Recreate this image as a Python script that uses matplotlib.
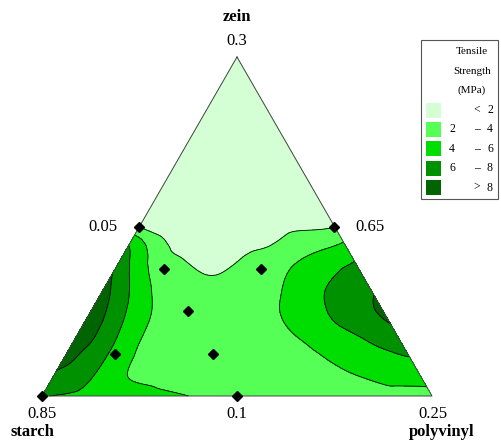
## Librerías
import numpy as np
import matplotlib
matplotlib.use("Agg")
import matplotlib.pyplot as plt
import matplotlib.tri as mtri
from matplotlib.patches import Rectangle

plt.rcParams['font.family'] = ['Liberation Serif', 'DejaVu Serif']

## Datos
componentes = ["zein", "starch", "polyvinyl"]
lim_vertices = ["0.3", "0.85", "0.25"]      # zein, starch, polyvinyl
lim_lados = ["0.05", "0.65", "0.1"]         # izquierdo, derecho, base

# Resistencia a la tensión en una malla de 1/8 (fila = zein*8, columna = polyvinyl*8)
ts_filas = [
    [6.1, 5.3, 4.6, 4.0, 3.1, 2.9, 3.0, 3.4, 3.6],
    [8.8, 5.5, 3.3, 2.9, 2.9, 3.8, 5.0, 6.2],
    [9.5, 4.85, 3.0, 2.9, 4.2, 6.3, 8.3],
    [7.7, 2.7, 1.85, 2.8, 4.9, 6.6],
    [1.95, 1.3, 1.4, 1.7, 1.95],
    [1.2, 1.0, 1.0, 1.2],
    [0.9, 0.8, 0.9],
    [0.7, 0.7],
    [0.6],
]
# Muestras extra (zein, polyvinyl, valor)
extra_zein = [0.475, 0.45, 0.40, 0.3125, 0.1875, 0.0625,
              0.475, 0.45, 0.42, 0.1875, 0.0625,
              0.125, 0.25, 0.375, 0.0625, 0.0625,
              0.4375, 0.4375, 0.4375, 0.4375, 0.4375, 0.4375, 0.4375,
              0.46875, 0.46875, 0.40625, 0.40625]
extra_pv = [0.0, 0.0, 0.0, 0.0, 0.0, 0.0,
            0.525, 0.55, 0.58, 0.8125, 0.9375,
            0.1875, 0.1875, 0.0625, 0.1875, 0.3125,
            0.0625, 0.125, 0.1875, 0.25, 0.3125, 0.375, 0.4375,
            0.03125, 0.09375, 0.09375, 0.15625]
extra_ts = [4.0, 5.8, 7.1, 8.8, 9.6, 7.7,
            3.1, 4.15, 5.2, 7.6, 4.6,
            3.75, 3.4, 4.9, 4.0, 3.3,
            3.5, 1.7, 1.5, 1.5, 1.85, 2.15, 3.1,
            3.3, 1.6, 3.0, 2.0]

# Puntos del diseño (zein, polyvinyl)
dis_zein = [0.0, 0.0, 0.5, 0.5, 0.375, 0.375, 0.25, 0.125, 0.125]
dis_pv = [0.0, 0.5, 0.0, 0.5, 0.125, 0.375, 0.25, 0.125, 0.375]

niveles = [2, 4, 6, 8]
colores = ["#d4ffd4", "#55ff55", "#00dd00", "#009100", "#006400"]
ley_izq = ["", "2", "4", "6", ""]
ley_sim = ["<", "–", "–", "–", ">"]
ley_der = ["2", "4", "6", "8", "8"]

## Geometría del triángulo (pixeles)
A = (237, 57)    # zein
B = (42, 396)    # starch
C = (432, 396)   # polyvinyl


def a_xy(z, p):
    z = np.asarray(z, float)
    p = np.asarray(p, float)
    s = 1 - z - p
    x = A[0] * z + B[0] * s + C[0] * p
    y = A[1] * z + B[1] * s + C[1] * p
    return x, y


zz, pp, vv = [], [], []
for i, fila in enumerate(ts_filas):
    for k, v in enumerate(fila):
        zz.append(i / 8)
        pp.append(k / 8)
        vv.append(v)
zz += extra_zein
pp += extra_pv
vv += extra_ts
x, y = a_xy(zz, pp)
vv = np.array(vv)

tri = mtri.Triangulation(x, y)
# quitar triángulos degenerados en los bordes
t = tri.triangles
area = 0.5 * np.abs((x[t[:, 1]] - x[t[:, 0]]) * (y[t[:, 2]] - y[t[:, 0]]) -
                    (x[t[:, 2]] - x[t[:, 0]]) * (y[t[:, 1]] - y[t[:, 0]]))
tri.set_mask(area < 1e-3)
interp = mtri.CubicTriInterpolator(tri, vv, kind="geom")
refiner = mtri.UniformTriRefiner(tri)
tri_f, v_f = refiner.refine_field(vv, triinterpolator=interp, subdiv=4)

## Figura
fig = plt.figure(figsize=(5.02, 4.42), dpi=100)
ax = fig.add_axes([0, 0, 1, 1])
ax.set_xlim(0, 502)
ax.set_ylim(442, 0)
ax.axis("off")

lv = [-100] + niveles + [100]
ax.tricontourf(tri_f, v_f, levels=lv, colors=colores)
ax.tricontour(tri_f, v_f, levels=niveles, colors="black", linewidths=0.6)

# contorno del triángulo
ax.plot([A[0], B[0], C[0], A[0]], [A[1], B[1], C[1], A[1]],
        color="#444444", lw=0.7)

# puntos del diseño
dx, dy = a_xy(dis_zein, dis_pv)
ax.plot(dx, dy, "D", color="black", ms=5.5, clip_on=False)

# etiquetas
ax.text(237, 17, componentes[0], ha="center", va="center", fontsize=12, fontweight="bold")
ax.text(237, 41, lim_vertices[0], ha="center", va="center", fontsize=12)
ax.text(42, 414, lim_vertices[1], ha="center", va="center", fontsize=12)
ax.text(32, 432, componentes[1], ha="center", va="center", fontsize=12, fontweight="bold")
ax.text(433, 414, lim_vertices[2], ha="center", va="center", fontsize=12)
ax.text(442, 432, componentes[2], ha="center", va="center", fontsize=12, fontweight="bold")
ax.text(118, 227, lim_lados[0], ha="right", va="center", fontsize=12)
ax.text(355, 227, lim_lados[1], ha="left", va="center", fontsize=12)
ax.text(237, 414, lim_lados[2], ha="center", va="center", fontsize=12)

# leyenda
ax.add_patch(Rectangle((421, 40), 77, 159, fill=False, edgecolor="#555555", lw=0.8))
for j, t_ in enumerate(["Tensile", "Strength", "(MPa)"]):
    ax.text(472, 52 + 19 * j, t_, ha="center", va="center", fontsize=8)
for j in range(5):
    yc = 110 + 19.4 * j
    ax.add_patch(Rectangle((426, yc - 7.5), 15, 15, facecolor=colores[j], edgecolor="none"))
    ax.text(452, yc, ley_izq[j], ha="center", va="center", fontsize=8.5)
    ax.text(477, yc, ley_sim[j], ha="center", va="center", fontsize=8.5)
    ax.text(490, yc, ley_der[j], ha="center", va="center", fontsize=8.5)

fig.savefig("out.png", dpi=100)
